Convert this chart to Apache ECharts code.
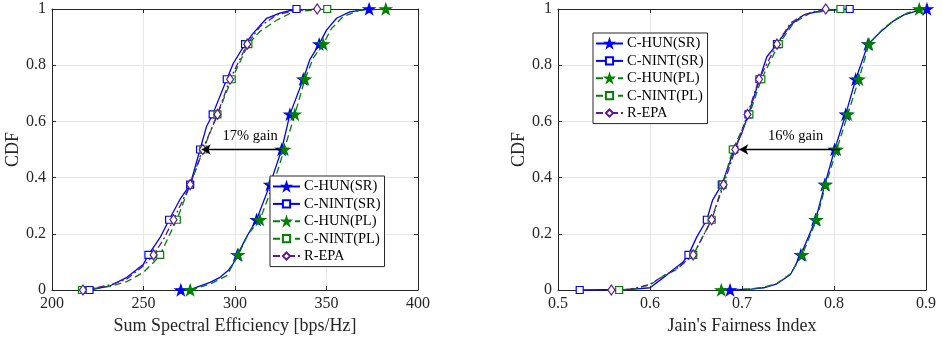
<!DOCTYPE html>
<html>
<head>
<meta charset="utf-8">
<script src="https://cdn.jsdelivr.net/npm/echarts@6/dist/echarts.min.js"></script>
<style>
html,body{margin:0;padding:0;background:#fff;}
#chart{width:942px;height:340px;}
</style>
</head>
<body>
<div id="chart"></div>
<script>
// ---------- DATA ----------
const seriesNames = ['C-HUN(SR)', 'C-NINT(SR)', 'C-HUN(PL)', 'C-NINT(PL)', 'R-EPA'];
const markerLevels = [0, 0.125, 0.25, 0.375, 0.5, 0.625, 0.75, 0.875, 1];
const yTicks = [0, 0.2, 0.4, 0.6, 0.8, 1];
const seTicks = [200, 250, 300, 350, 400];
const jfiTicks = [0.5, 0.6, 0.7, 0.8, 0.9];

// Left: Sum Spectral Efficiency [bps/Hz] vs CDF
const seHunSR = [[270.4,0],[277.3,0.006],[286.4,0.027],[291.8,0.045],[296.4,0.07],[299.1,0.095],[301.3,0.125],[306.4,0.19],[311.8,0.25],[319.1,0.375],[325.5,0.5],[330,0.625],[337.3,0.75],[340.9,0.82],[346,0.875],[350,0.925],[355.5,0.967],[362.7,0.99],[373.3,1]];
const seNintSR = [[220.5,0],[231.8,0.015],[240.9,0.045],[250,0.092],[252.7,0.125],[259.1,0.187],[264,0.25],[270,0.323],[275.5,0.375],[280.9,0.5],[284.5,0.583],[287.8,0.625],[295.5,0.75],[299.1,0.807],[305.5,0.875],[310,0.914],[317.3,0.967],[324.5,0.985],[333.6,1]];
const seHunPL = [[275.5,0],[286.4,0.021],[295.5,0.051],[301.8,0.125],[307.3,0.2],[313.6,0.25],[320.9,0.375],[326.9,0.5],[332.7,0.625],[338.2,0.75],[342.7,0.825],[348.2,0.875],[352.7,0.93],[359.1,0.973],[368.2,0.996],[382.4,1]];
const seNintPL = [[216.4,0],[231.8,0.013],[240.9,0.03],[250,0.063],[255.5,0.098],[259.1,0.125],[264.5,0.2],[268.2,0.25],[277.3,0.405],[282.7,0.5],[290.4,0.625],[298.2,0.75],[307.3,0.875],[313.6,0.92],[322.7,0.96],[331.8,0.99],[350.4,1]];
const seREPA = [[216.9,0],[231.8,0.018],[240.9,0.039],[250,0.086],[255.5,0.125],[260.9,0.18],[266.4,0.25],[275.5,0.375],[282.4,0.5],[290.4,0.625],[297.3,0.75],[306.7,0.875],[313.6,0.937],[322.7,0.979],[331.8,0.993],[344.9,1]];
const seGain = {from: 325.5, to: 281.8, level: 0.5, text: '17% gain'};

// Right: Jain's Fairness Index vs CDF
const jfiHunSR = [[0.687,0],[0.71,0.003],[0.7236,0.008],[0.738,0.022],[0.7527,0.055],[0.764,0.125],[0.78,0.25],[0.79,0.375],[0.8007,0.5],[0.8127,0.625],[0.8236,0.75],[0.837,0.875],[0.851,0.92],[0.8636,0.955],[0.876,0.979],[0.891,0.994],[0.901,1]];
const jfiNintSR = [[0.5236,0],[0.58,0.002],[0.6,0.008],[0.6145,0.044],[0.6255,0.073],[0.636,0.1],[0.6418,0.125],[0.651,0.19],[0.6618,0.25],[0.668,0.32],[0.678,0.375],[0.6916,0.5],[0.7,0.56],[0.707,0.625],[0.719,0.75],[0.727,0.83],[0.738,0.875],[0.7527,0.943],[0.767,0.979],[0.7855,0.993],[0.817,1]];
const jfiHunPL = [[0.6775,0],[0.71,0.004],[0.7236,0.01],[0.738,0.024],[0.7527,0.058],[0.7655,0.125],[0.781,0.25],[0.791,0.375],[0.803,0.5],[0.815,0.625],[0.827,0.75],[0.838,0.875],[0.852,0.925],[0.865,0.96],[0.879,0.985],[0.8927,1]];
const jfiNintPL = [[0.5665,0],[0.585,0.006],[0.6,0.018],[0.6145,0.05],[0.6291,0.073],[0.647,0.125],[0.667,0.25],[0.679,0.375],[0.69,0.5],[0.708,0.625],[0.721,0.75],[0.74,0.875],[0.756,0.95],[0.774,0.985],[0.807,1]];
const jfiREPA = [[0.558,0],[0.58,0.004],[0.6,0.02],[0.6145,0.05],[0.6291,0.076],[0.647,0.125],[0.667,0.25],[0.68,0.375],[0.6927,0.5],[0.706,0.625],[0.7185,0.75],[0.738,0.875],[0.7527,0.95],[0.767,0.979],[0.7818,0.994],[0.791,1]];
const jfiGain = {from: 0.8065, to: 0.697, level: 0.5, text: '16% gain'};

// ---------- STYLE ----------
const FONT = 'Liberation Serif';
const AX = '#262626';
const BLUE = '#0000ff', GREEN = '#008000', PURPLE = '#5c1a8c';
const STAR = 'path://M50,0 L61.2,34.5 L97.6,34.5 L68.2,55.9 L79.4,90.5 L50,69.1 L20.6,90.5 L31.8,55.9 L2.4,34.5 L38.8,34.5 Z';
const styles = [
  {color: BLUE, type: 'solid', symbol: STAR, size: 11, fill: BLUE},
  {color: BLUE, type: 'solid', symbol: 'rect', size: 7, fill: '#fff'},
  {color: GREEN, type: [7, 4], symbol: STAR, size: 11, fill: GREEN},
  {color: GREEN, type: [7, 4], symbol: 'rect', size: 7, fill: '#fff'},
  {color: PURPLE, type: [7, 3, 2, 3], symbol: 'diamond', size: [7, 10], fill: '#fff'}
];

function build(points) {
  return points.map(p => markerLevels.indexOf(p[1]) >= 0 ? {value: p} : {value: p, symbol: 'none'});
}

function makeSeries(curves, xi, gain, padLeft) {
  return curves.map((pts, i) => {
    const s = styles[i];
    const ser = {
      name: seriesNames[i], type: 'line', xAxisIndex: xi, yAxisIndex: xi,
      data: build(pts), symbol: s.symbol, symbolSize: s.size, symbolKeepAspect: true,
      showSymbol: true, showAllSymbol: true, clip: false, animation: false, silent: true,
      lineStyle: {color: s.color, width: 1.3, type: s.type},
      itemStyle: {color: s.fill, borderColor: s.color, borderWidth: 1.2}
    };
    if (i === curves.length - 1) {
      ser.markLine = {
        silent: true, animation: false, symbol: ['none', 'arrow'], symbolSize: [8, 9],
        lineStyle: {color: '#000', width: 1.3, type: 'solid'},
        label: {show: true, position: 'middle', formatter: gain.text, color: '#000',
                fontFamily: FONT, fontSize: 14.5, distance: 6, padding: [0, 0, 0, padLeft]},
        data: [[{coord: [gain.from, gain.level]}, {coord: [gain.to, gain.level]}]]
      };
    }
    return ser;
  });
}

function xAxes(grid, min, max, interval, name) {
  return [
    {type: 'value', gridIndex: grid, min: min, max: max, interval: interval, position: 'bottom',
     name: name, nameLocation: 'middle', nameGap: 27,
     nameTextStyle: {fontFamily: FONT, fontSize: 18, color: AX},
     axisLine: {show: true, lineStyle: {color: AX, width: 1}},
     axisTick: {show: true, inside: true, length: 4, lineStyle: {color: AX}},
     axisLabel: {fontFamily: FONT, fontSize: 16, color: AX, margin: 6},
     splitLine: {show: true, lineStyle: {color: '#e6e6e6', width: 1}}},
    {type: 'value', gridIndex: grid, min: min, max: max, interval: interval, position: 'top',
     axisLine: {show: true, onZero: false, lineStyle: {color: AX, width: 1}},
     axisTick: {show: true, inside: true, length: 4, lineStyle: {color: AX}},
     axisLabel: {show: false}, splitLine: {show: false}}
  ];
}
function yAxes(grid, nameGap) {
  return [
    {type: 'value', gridIndex: grid, min: 0, max: 1, interval: 0.2, position: 'left',
     name: 'CDF', nameLocation: 'middle', nameGap: nameGap,
     nameTextStyle: {fontFamily: FONT, fontSize: 18, color: AX},
     axisLine: {show: true, onZero: false, lineStyle: {color: AX, width: 1}},
     axisTick: {show: true, inside: true, length: 4, lineStyle: {color: AX}},
     axisLabel: {fontFamily: FONT, fontSize: 16, color: AX, margin: 6},
     splitLine: {show: true, lineStyle: {color: '#e6e6e6', width: 1}}},
    {type: 'value', gridIndex: grid, min: 0, max: 1, interval: 0.2, position: 'right',
     axisLine: {show: true, onZero: false, lineStyle: {color: AX, width: 1}},
     axisTick: {show: true, inside: true, length: 4, lineStyle: {color: AX}},
     axisLabel: {show: false}, splitLine: {show: false}}
  ];
}
function legend(left, top) {
  return {
    data: seriesNames, orient: 'vertical', left: left, top: top,
    padding: [3, 4, 3, 2], itemGap: 2.4, itemWidth: 27, itemHeight: 9,
    backgroundColor: '#fff', borderColor: AX, borderWidth: 1, borderRadius: 0,
    selectedMode: false, inactiveColor: '#000',
    textStyle: {fontFamily: FONT, fontSize: 14.5, color: '#000', padding: [0, 0, 0, -1]}
  };
}

const xs = xAxes(0, 200, 400, 50, 'Sum Spectral Efficiency [bps/Hz]')
  .concat(xAxes(1, 0.5, 0.9, 0.1, "Jain's Fairness Index"));
const ys = yAxes(0, 28).concat(yAxes(1, 29));
const series = makeSeries([seHunSR, seNintSR, seHunPL, seNintPL, seREPA], 0, seGain, 17)
  .concat(makeSeries([jfiHunSR, jfiNintSR, jfiHunPL, jfiNintPL, jfiREPA], 2, jfiGain, 12));

const chart = echarts.init(document.getElementById('chart'), null, {renderer: 'canvas'});
chart.setOption({
  backgroundColor: '#fff',
  animation: false,
  grid: [
    {left: 52, top: 9, width: 366, height: 282},
    {left: 558, top: 9, width: 368, height: 283}
  ],
  xAxis: xs,
  yAxis: ys,
  legend: [legend(270, 176), legend(593, 33)],
  series: series
});
</script>
</body>
</html>
